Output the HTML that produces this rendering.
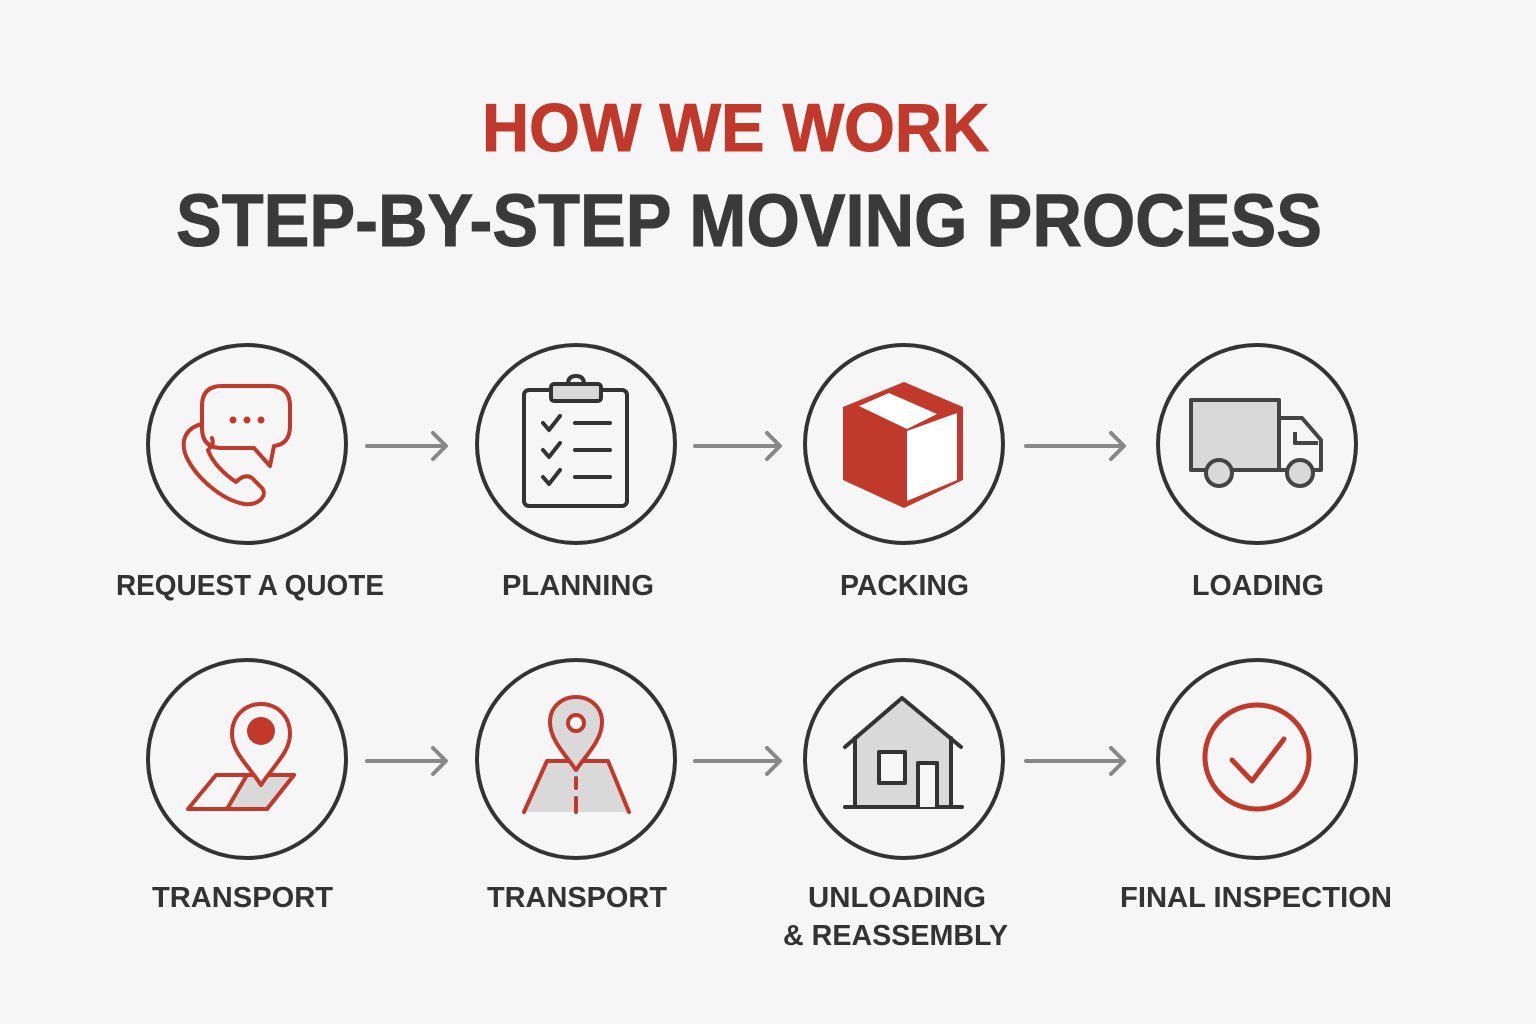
<!DOCTYPE html>
<html><head><meta charset="utf-8"><style>
html,body{margin:0;padding:0;background:#f6f6f6;}
svg{display:block}
text{font-family:"Liberation Sans","DejaVu Sans",sans-serif;font-weight:bold}
</style></head><body>
<svg width="1536" height="1024" viewBox="0 0 1536 1024" xmlns="http://www.w3.org/2000/svg">
<rect width="1536" height="1024" fill="#f6f6f6"/>
<text x="482" y="151" font-size="68" fill="#c0392b" stroke="#c0392b" stroke-width="1" textLength="507" lengthAdjust="spacingAndGlyphs">HOW WE WORK</text>
<text x="176" y="246" font-size="74" fill="#3a3a3a" stroke="#3a3a3a" stroke-width="1" textLength="1146" lengthAdjust="spacingAndGlyphs">STEP-BY-STEP MOVING PROCESS</text>

<g fill="none" stroke="#333" stroke-width="4">
<circle cx="247" cy="444" r="99"/><circle cx="576" cy="444" r="99"/><circle cx="904" cy="444" r="99"/><circle cx="1257" cy="444" r="99"/>
<circle cx="247" cy="759" r="99"/><circle cx="576" cy="759" r="99"/><circle cx="904" cy="759" r="99"/><circle cx="1257" cy="759" r="99"/>
</g>

<g fill="none" stroke="#888" stroke-width="4" stroke-linecap="round" stroke-linejoin="round">
<path d="M367 446H445M433 433L446 446L433 459"/>
<path d="M695 446H779M767 433L780 446L767 459"/>
<path d="M1026 446H1123M1111 433L1124 446L1111 459"/>
<path d="M367 761H445M433 748L446 761L433 774"/>
<path d="M695 761H779M767 748L780 761L767 774"/>
<path d="M1026 761H1123M1111 748L1124 761L1111 774"/>
</g>

<!-- phone + chat -->
<g fill="none" stroke="#c0392b" stroke-width="4" stroke-linejoin="round" stroke-linecap="round">
<path d="M222 386H270Q290 386 290 406V426Q290 444 274 446L270 466L254 448H222Q202 448 202 428V406Q202 386 222 386Z"/>
<path d="M202 424C186 428 180 440 186 456C196 478 222 500 244 504C258 506 268 496 262 488L252 478C246 474 240 478 236 482C224 474 212 462 208 450C212 446 214 444 212 438"/>
</g>
<g fill="#c0392b"><circle cx="233" cy="420" r="3.5"/><circle cx="247" cy="420" r="3.5"/><circle cx="261" cy="420" r="3.5"/></g>

<!-- clipboard -->
<g fill="none" stroke="#333" stroke-width="4" stroke-linejoin="round" stroke-linecap="round">
<rect x="524" y="390" width="103" height="116" rx="5"/>
<rect x="551" y="384" width="50" height="17" rx="3" fill="#d9d9d9"/>
<path d="M568 384Q568 376 576 376Q584 376 584 384"/>
<path d="M543 423L549 430L560 416M543 450L549 457L560 443M543 477L549 484L560 470"/>
<path d="M575 423H610M575 450H610M575 477H610"/>
</g>

<!-- box -->
<polygon points="904,382 963,407 963,480 904,508 843,480 843,407" fill="#c0392b"/>
<polygon points="859,406 889,393 937,414 907,429" fill="#fff"/>
<polygon points="907,431 957,413 957,480 907,501" fill="#fff"/>

<!-- truck -->
<g stroke="#444" stroke-width="4" stroke-linejoin="round" fill="#d9d9d9">
<rect x="1191" y="400" width="88" height="70"/>
<path d="M1279 418H1302L1321 440V470H1279Z" fill="#f6f6f6"/>
<path d="M1295 432V443H1318" fill="none"/>
<circle cx="1219" cy="473" r="13"/><circle cx="1300" cy="473" r="13"/>
</g>

<!-- pin on map -->
<g stroke="#c0392b" stroke-width="4" stroke-linejoin="round">
<polygon points="188,809 216,775 294,775 267,809" fill="#f6f6f6"/>
<polygon points="247,775 294,775 267,809 227,809" fill="#d9d9d9"/>
<path d="M261 785C248 765 232 752 232 734C232 716 245 704 261 704C277 704 290 716 290 734C290 752 274 765 261 785Z" fill="#f6f6f6"/>
</g>
<circle cx="261" cy="731" r="14" fill="#c0392b"/>

<!-- road -->
<g stroke="#c0392b" stroke-width="4" stroke-linejoin="round" stroke-linecap="round">
<polygon points="547,761 608,761 629,812 524,812" fill="#d9d9d9" stroke="none"/>
<path d="M524 812L547 761H608L629 812" fill="none"/>
<path d="M576 778V788M576 798V812" fill="none"/>
<path d="M576 770C565 754 550 740 550 722C550 707 562 697 576 697C590 697 602 707 602 722C602 740 587 754 576 770Z" fill="#d9d9d9"/>
<circle cx="576" cy="723" r="8" fill="#f6f6f6"/>
</g>

<!-- house -->
<g stroke="#333" stroke-width="4" stroke-linejoin="round" stroke-linecap="round">
<path d="M855 807V735L902 700L951 735V807Z" fill="#d9d9d9" stroke="none"/>
<path d="M845 747L902 698L961 747M855 738V807M951 738V807M845 807H962" fill="none"/>
<rect x="879" y="752" width="26" height="31" fill="#f6f6f6"/>
<path d="M918 807V763H937V807" fill="#f6f6f6"/>
</g>

<!-- check -->
<circle cx="1257" cy="757" r="52" fill="none" stroke="#c0392b" stroke-width="5"/>
<path d="M1232 760L1252 781L1284 739" fill="none" stroke="#c0392b" stroke-width="5" stroke-linecap="round" stroke-linejoin="round"/>

<g font-size="29" fill="#333">
<text x="116" y="595" textLength="268" lengthAdjust="spacingAndGlyphs">REQUEST A QUOTE</text>
<text x="502" y="595" textLength="152" lengthAdjust="spacingAndGlyphs">PLANNING</text>
<text x="840" y="595" textLength="129" lengthAdjust="spacingAndGlyphs">PACKING</text>
<text x="1192" y="595" textLength="132" lengthAdjust="spacingAndGlyphs">LOADING</text>
<text x="152" y="907" textLength="181" lengthAdjust="spacingAndGlyphs">TRANSPORT</text>
<text x="487" y="907" textLength="180" lengthAdjust="spacingAndGlyphs">TRANSPORT</text>
<text x="808" y="907" textLength="178" lengthAdjust="spacingAndGlyphs">UNLOADING</text>
<text x="783" y="945" textLength="225" lengthAdjust="spacingAndGlyphs">&amp; REASSEMBLY</text>
<text x="1120" y="907" textLength="272" lengthAdjust="spacingAndGlyphs">FINAL INSPECTION</text>
</g>
</svg>
</body></html>
